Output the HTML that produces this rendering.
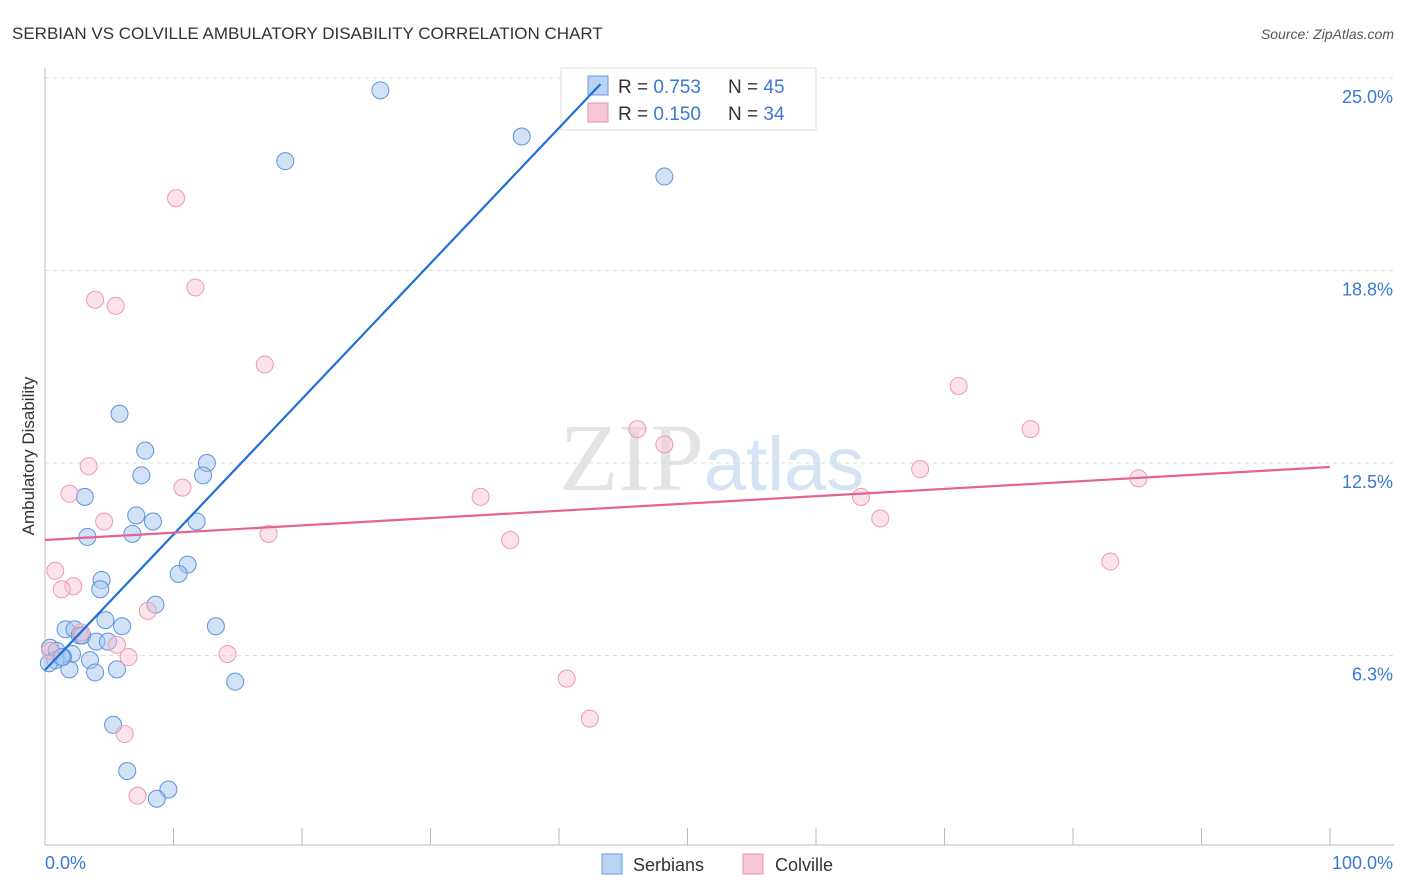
<!DOCTYPE html>
<html><head><meta charset="utf-8"><style>
body{margin:0;background:#fff;font-family:"Liberation Sans",sans-serif}
svg{display:block}
</style></head><body>
<svg id="c" width="1406" height="892">
<text x="12" y="39" font-size="17" fill="#333">SERBIAN VS COLVILLE AMBULATORY DISABILITY CORRELATION CHART</text>
<text x="1394" y="39" font-size="14" fill="#555" font-style="italic" text-anchor="end">Source: ZipAtlas.com</text>
<text x="712" y="490" font-size="96" fill="#e4e4e4" text-anchor="middle" font-family="Liberation Serif,serif">ZIP<tspan fill="#d6e3f3" font-family="Liberation Sans,sans-serif" font-size="76">atlas</tspan></text>
<text transform="translate(34,456) rotate(-90)" font-size="17" fill="#333" text-anchor="middle">Ambulatory Disability</text>
<g id="grid"></g><g id="pts"></g>
<g>
<rect x="561" y="68" width="255" height="62" fill="rgba(255,255,255,0.75)" stroke="#ddd"/>
<rect x="588" y="76" width="20" height="19" fill="#b9d3f5" stroke="#6c9be0"/>
<rect x="588" y="103" width="20" height="19" fill="#f8c7d6" stroke="#e993ae"/>
<text x="618" y="93" font-size="19" fill="#333">R = <tspan fill="#3a78d6">0.753</tspan></text>
<text x="728" y="93" font-size="19" fill="#333">N = <tspan fill="#3a78d6">45</tspan></text>
<text x="618" y="120" font-size="19" fill="#333">R = <tspan fill="#3a78d6">0.150</tspan></text>
<text x="728" y="120" font-size="19" fill="#333">N = <tspan fill="#3a78d6">34</tspan></text>
</g>
<g id="lines"></g>
<g>
<rect x="602" y="854" width="20" height="20" fill="#b9d3f5" stroke="#6c9be0"/>
<text x="633" y="871" font-size="18" fill="#333">Serbians</text>
<rect x="743" y="854" width="20" height="20" fill="#f8c7d6" stroke="#e993ae"/>
<text x="775" y="871" font-size="18" fill="#333">Colville</text>
</g>
<text x="45" y="869" font-size="18" fill="#3a78d6">0.0%</text>
<text x="1393" y="869" font-size="18" fill="#3a78d6" text-anchor="end">100.0%</text>
</svg>
<script>
const yTicks=[6.25,12.5,18.75,25];
const yTickLabels=["6.3%","12.5%","18.8%","25.0%"];
const serbX=[26.1,18.7,37.1,48.2,5.8,7.8,12.6,7.5,12.3,3.1,7.1,8.4,6.8,3.3,11.8,11.1,10.4,4.4,4.3,8.6,4.7,6.0,1.6,2.3,13.3,2.7,2.9,4.0,4.9,0.4,0.9,2.1,0.8,1.4,3.5,0.3,1.9,3.9,5.6,14.8,5.3,6.4,9.6,8.7,1.3];
const serbY=[24.6,22.3,23.1,21.8,14.1,12.9,12.5,12.1,12.1,11.4,10.8,10.6,10.2,10.1,10.6,9.2,8.9,8.7,8.4,7.9,7.4,7.2,7.1,7.1,7.2,6.9,6.9,6.7,6.7,6.5,6.4,6.3,6.1,6.2,6.1,6.0,5.8,5.7,5.8,5.4,4.0,2.5,1.9,1.6,6.2];
const colX=[10.2,11.7,3.9,5.5,17.1,71.1,46.1,76.7,48.2,3.4,68.1,85.1,1.9,10.7,33.9,63.5,4.6,65.0,17.4,36.2,0.8,82.9,2.2,1.3,8.0,2.8,5.6,6.5,14.2,40.6,42.4,6.2,7.2,0.4];
const colY=[21.1,18.2,17.8,17.6,15.7,15.0,13.6,13.6,13.1,12.4,12.3,12.0,11.5,11.7,11.4,11.4,10.6,10.7,10.2,10.0,9.0,9.3,8.5,8.4,7.7,7.0,6.6,6.2,6.3,5.5,4.2,3.7,1.7,6.4];
const serbLine=[5.78,0.44];
const colLine=[10.0,0.0237];
const NS="http://www.w3.org/2000/svg";
const X=v=>45+v*12.85, Y=v=>848-v*30.8;
function mk(t,a,p){const e=document.createElementNS(NS,t);for(const k in a)e.setAttribute(k,a[k]);p.appendChild(e);return e;}
const g=document.getElementById('grid');
yTicks.forEach((t,i)=>{
 const l=mk('line',{x1:45,x2:1394,y1:Y(t),y2:Y(t),stroke:'#ddd','stroke-dasharray':'4,4'},g);
 
 
 const tx=mk('text',{x:1393,y:Y(t)+25,'font-size':18,fill:'#3a78d6','text-anchor':'end'},g);
 tx.textContent=yTickLabels[i];
 
 
});
const ax=mk('line',{x1:45,x2:45,y1:68,y2:845,stroke:'#bbb'},g);


const bx=mk('line',{x1:45,x2:1394,y1:845,y2:845,stroke:'#bbb'},g);


for(let i=0;i<=10;i++){const tk=mk('line',{x1:X(i*10),x2:X(i*10),y1:828,y2:845,stroke:'#bbb'},g);
 
 }
const p=document.getElementById('pts');
serbX.forEach((v,i)=>{const c=mk('circle',{cx:X(v),cy:Y(serbY[i]),r:8.5,fill:'rgba(164,198,240,0.5)',stroke:'#5d93de','stroke-width':1},p);
 
 });
colX.forEach((v,i)=>{const c=mk('circle',{cx:X(v),cy:Y(colY[i]),r:8.5,fill:'rgba(248,190,208,0.45)',stroke:'#eb9ab4','stroke-width':1},p);
 
 });
const L=document.getElementById('lines');
const xe=(24.8-serbLine[0])/serbLine[1];
const s=mk('line',{x1:X(0),y1:Y(serbLine[0]),x2:X(xe),y2:Y(serbLine[0]+serbLine[1]*xe),stroke:'#1f6fd6','stroke-width':2.2},L);


const c=mk('line',{x1:X(0),y1:Y(colLine[0]),x2:X(100),y2:Y(colLine[0]+colLine[1]*100),stroke:'#e4648f','stroke-width':2.2},L);


</script>
</body></html>
